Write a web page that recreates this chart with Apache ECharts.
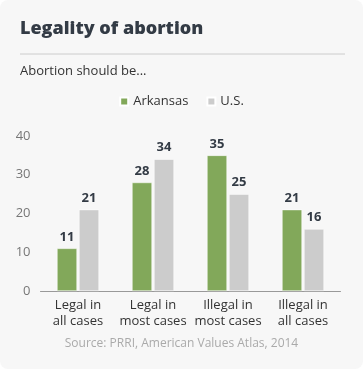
<!DOCTYPE html>
<html><head><meta charset="utf-8">
<script src="https://cdn.jsdelivr.net/npm/echarts@6/dist/echarts.min.js"></script>
<style>
html,body{margin:0;padding:0;background:#fff;}
#card{position:absolute;left:0;top:0;width:363px;height:369px;background:#f7f7f7;border-radius:8px;}
#c{width:363px;height:369px;}
</style></head>
<body><div id="card"><div id="c"></div></div>
<script>
const categories = ['Legal in\nall cases','Legal in\nmost cases','Illegal in\nmost cases','Illegal in\nall cases'];
const arkansas = [11, 28, 35, 21];
const us = [21, 34, 25, 16];
const yTicks = [0, 10, 20, 30, 40];
const F = '"Open Sans", sans-serif';
const chart = echarts.init(document.getElementById('c'));
chart.setOption({
  backgroundColor: 'transparent',
  textStyle: {fontFamily: F},
  graphic: [
    {type:'text', left:20, top:20, style:{text:'Legality of abortion', font:'800 18px "Open Sans"', fill:'#333b45'}},
    {type:'line', shape:{x1:20, y1:54, x2:345, y2:54}, style:{stroke:'#cccccc', lineWidth:1}},
    {type:'text', left:20, top:65, style:{text:'Abortion should be...', font:'13px "Open Sans"', fill:'#333333'}},
    {type:'text', left:'center', top:338, style:{text:'Source: PRRI, American Values Atlas, 2014', font:'12px "Open Sans"', fill:'#aaaaaa'}}
  ],
  legend: {
    top: 90, left: 'center',
    itemWidth: 8, itemHeight: 8, itemGap: 18,
    icon: 'rect',
    textStyle: {fontFamily: F, fontSize: 13, color: '#333333'},
    data: ['Arkansas','U.S.']
  },
  grid: {left: 40.5, right: 22.5, top: 136, bottom: 78},
  xAxis: {
    type: 'category', data: categories,
    axisLine: {lineStyle: {color: '#999999'}},
    axisTick: {show: false},
    axisLabel: {interval: 0, fontFamily: F, fontSize: 13, color: '#333333', lineHeight: 16, margin: 6}
  },
  yAxis: {
    type: 'value', min: 0, max: 40, interval: 10,
    splitLine: {show: false},
    axisLine: {show: false}, axisTick: {show: false},
    axisLabel: {fontFamily: F, fontSize: 13, color: '#777777', margin: 10,
      formatter: v => yTicks.includes(v) ? String(v) : ''}
  },
  series: [
    {name:'Arkansas', type:'bar', data: arkansas, barWidth: 20, barGap: '10%',
     itemStyle:{color:'#82a85a', borderColor:'#ffffff', borderWidth:0.5},
     label:{show:true, position:'top', distance:5, fontFamily:F, fontSize:13, fontWeight:'bold', color:'#333b45'}},
    {name:'U.S.', type:'bar', data: us, barWidth: 20,
     itemStyle:{color:'#cccccc', borderColor:'#ffffff', borderWidth:0.5},
     label:{show:true, position:'top', distance:5, fontFamily:F, fontSize:13, fontWeight:'bold', color:'#333b45'}}
  ]
});
</script></body></html>
